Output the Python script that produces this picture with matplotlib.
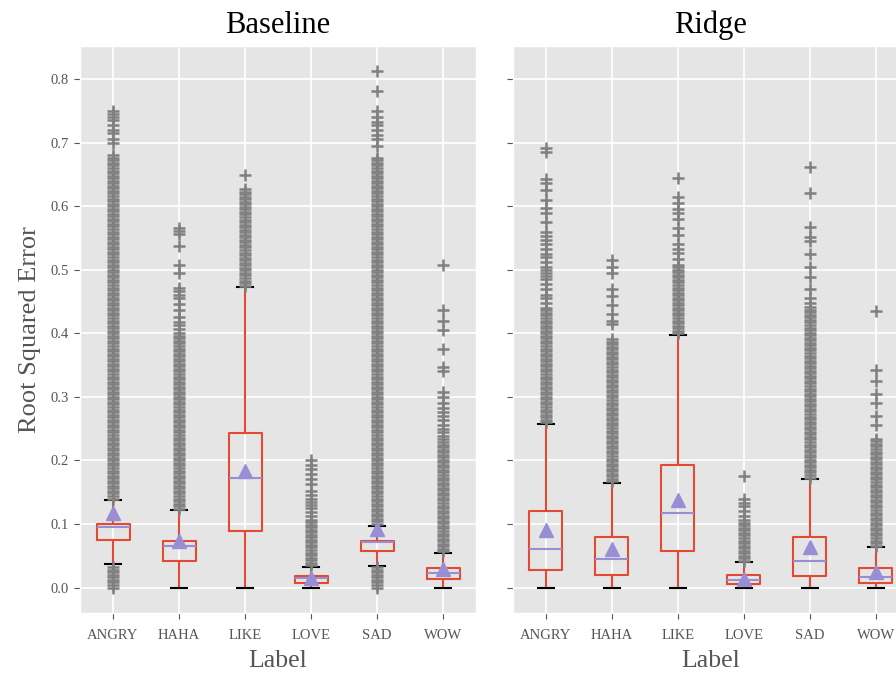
import matplotlib
matplotlib.use('Agg')
import matplotlib.pyplot as plt
import numpy as np

labels = ['ANGRY', 'HAHA', 'LIKE', 'LOVE', 'SAD', 'WOW']

# Baseline box statistics
base_q1 = [0.075, 0.042, 0.089, 0.007, 0.057, 0.014]
base_med = [0.096, 0.065, 0.173, 0.0145, 0.072, 0.0225]
base_q3 = [0.100, 0.074, 0.243, 0.018, 0.074, 0.030]
base_lo = [0.037, 0.0, 0.0, 0.0, 0.0335, 0.0]
base_hi = [0.138, 0.122, 0.473, 0.033, 0.097, 0.055]
base_mean = [0.118, 0.074, 0.183, 0.015, 0.092, 0.029]

# Ridge box statistics
ridge_q1 = [0.028, 0.020, 0.057, 0.005, 0.018, 0.007]
ridge_med = [0.061, 0.045, 0.117, 0.0115, 0.041, 0.017]
ridge_q3 = [0.120, 0.079, 0.193, 0.019, 0.080, 0.030]
ridge_lo = [0.0, 0.0, 0.0, 0.0, 0.0, 0.0]
ridge_hi = [0.258, 0.165, 0.398, 0.040, 0.171, 0.064]
ridge_mean = [0.091, 0.060, 0.138, 0.014, 0.064, 0.025]

# Outliers, in thousandths (dense runs)
base_fliers = [
    # ANGRY
    [0, 4, 8, 12, 16, 20, 24, 28, 32,
     140, 144, 148, 152, 156, 160, 164, 168, 172, 176, 180, 184, 188, 192, 196,
     200, 204, 208, 212, 216, 220, 224, 228, 232, 236, 240, 244, 248, 252, 256,
     260, 264, 268, 272, 276, 280, 284, 288, 292, 296, 300, 304, 308, 312, 316,
     320, 324, 328, 332, 336, 340, 344, 348, 352, 356, 360, 364, 368, 372, 376,
     380, 384, 388, 392, 396, 400, 404, 408, 412, 416, 420, 424, 428, 432, 436,
     440, 444, 448, 452, 456, 460, 464, 468, 472, 476, 480, 484, 488, 492, 496,
     500, 504, 508, 512, 516, 520, 524, 528, 532, 536, 540, 544, 548, 552, 556,
     560, 564, 568, 572, 576, 580, 584, 588, 592, 596, 600, 604, 608, 612, 616,
     620, 624, 628, 632, 636, 640, 644, 648, 652, 656, 660, 664, 668, 672, 676,
     680, 700, 705, 715, 720, 728, 735, 740, 745, 750],
    # HAHA
    [124, 128, 132, 136, 140, 144, 148, 152, 156, 160, 164, 168, 172, 176, 180,
     184, 188, 192, 196, 200, 204, 208, 212, 216, 220, 224, 228, 232, 236, 240,
     244, 248, 252, 256, 260, 264, 268, 272, 276, 280, 284, 288, 292, 296, 300,
     304, 308, 312, 316, 320, 324, 328, 332, 336, 340, 344, 348, 352, 356, 360,
     364, 368, 372, 376, 380, 384, 388, 392, 396, 400,
     406, 413, 418, 426, 436, 446, 456, 461, 467, 472, 495, 508, 537, 556, 561,
     566],
    # LIKE
    [475, 479, 483, 487, 491, 495, 499, 503, 507, 511, 515, 519, 523, 527, 531,
     535, 539, 543, 547, 551, 555, 559, 563, 567, 571, 575, 579, 583, 587, 591,
     595, 599, 603, 607, 611, 615, 619, 623, 627, 649],
    # LOVE
    [35, 39, 43, 47, 51, 55, 59, 63, 67, 71, 75, 79, 83, 87, 91, 95, 99, 103,
     107, 112, 119, 125, 130, 135, 140, 146, 152, 163, 170, 178, 186, 192, 200],
    # SAD
    [0, 4, 8, 12, 16, 20, 24, 28, 32,
     100, 104, 108, 112, 116, 120, 124, 128, 132, 136, 140, 144, 148, 152, 156,
     160, 164, 168, 172, 176, 180, 184, 188, 192, 196, 200, 204, 208, 212, 216,
     220, 224, 228, 232, 236, 240, 244, 248, 252, 256, 260, 264, 268, 272, 276,
     280, 284, 288, 292, 296, 300, 304, 308, 312, 316, 320, 324, 328, 332, 336,
     340, 344, 348, 352, 356, 360, 364, 368, 372, 376, 380, 384, 388, 392, 396,
     400, 404, 408, 412, 416, 420, 424, 428, 432, 436, 440, 444, 448, 452, 456,
     460, 464, 468, 472, 476, 480, 484, 488, 492, 496, 500, 504, 508, 512, 516,
     520, 524, 528, 532, 536, 540, 544, 548, 552, 556, 560, 564, 568, 572, 576,
     580, 584, 588, 592, 596, 600, 604, 608, 612, 616, 620, 624, 628, 632, 636,
     640, 644, 648, 652, 656, 660, 664, 668, 672, 676,
     695, 705, 712, 720, 727, 733, 740, 750, 781, 812],
    # WOW
    [57, 61, 65, 69, 73, 77, 81, 85, 89, 93, 97, 101, 105, 109, 113, 117, 121,
     125, 129, 133, 137, 141, 145, 149, 153, 157, 161, 165, 169, 173, 177, 181,
     185, 189, 193, 197, 201, 205, 209, 213, 217, 221, 225, 229, 233,
     238, 245, 250, 256, 263, 270, 276, 283, 290, 300, 307, 340, 347, 375, 405,
     420, 437, 508],
]

ridge_fliers = [
    # ANGRY
    [260, 264, 268, 272, 276, 280, 284, 288, 292, 296, 300, 304, 308, 312, 316,
     320, 324, 328, 332, 336, 340, 344, 348, 352, 356, 360, 364, 368, 372, 376,
     380, 384, 388, 392, 396, 400, 404, 408, 412, 416, 420, 424, 428, 432, 436,
     440, 447, 455, 460, 470, 477, 485, 490, 495, 500, 505, 512, 520, 525, 532,
     540, 546, 553, 560, 575, 590, 597, 610, 625, 637, 643, 685, 692],
    # HAHA
    [167, 171, 175, 179, 183, 187, 191, 195, 199, 203, 207, 211, 215, 219, 223,
     227, 231, 235, 239, 243, 247, 251, 255, 259, 263, 267, 271, 275, 279, 283,
     287, 291, 295, 299, 303, 307, 311, 315, 319, 323, 327, 331, 335, 339, 343,
     347, 351, 355, 359, 363, 367, 371, 375, 379, 383, 387, 391,
     415, 420, 430, 445, 458, 470, 495, 505, 515],
    # LIKE
    [400, 404, 408, 412, 416, 420, 424, 428, 432, 436, 440, 444, 448, 452, 456,
     460, 464, 468, 472, 476, 480, 484, 488, 492, 496, 500, 504, 508,
     517, 527, 533, 540, 555, 565, 580, 590, 596, 605, 615, 645],
    # LOVE
    [42, 46, 50, 54, 58, 62, 66, 70, 74, 78, 82, 86, 90, 94, 98, 102, 106,
     113, 121, 128, 133, 140, 175],
    # SAD
    [173, 177, 181, 185, 189, 193, 197, 201, 205, 209, 213, 217, 221, 225, 229,
     233, 237, 241, 245, 249, 253, 257, 261, 265, 269, 273, 277, 281, 285, 289,
     293, 297, 301, 305, 309, 313, 317, 321, 325, 329, 333, 337, 341, 345, 349,
     353, 357, 361, 365, 369, 373, 377, 381, 385, 389, 393, 397, 401, 405, 409,
     413, 417, 421, 425, 429, 433, 437, 441,
     447, 455, 470, 488, 505, 525, 545, 552, 567, 620, 662],
    # WOW
    [66, 70, 74, 78, 82, 86, 90, 94, 98, 102, 106, 110, 114, 118, 122, 126, 130,
     134, 138, 142, 146, 150, 154, 158, 162, 166, 170, 174, 178, 182, 186, 190,
     194, 198, 202, 206, 210, 214, 218, 222, 226, 230, 234,
     255, 270, 290, 305, 325, 342, 435],
]


def build_stats(q1, med, q3, lo, hi, mean, fliers):
    stats = []
    for i in range(len(labels)):
        stats.append({
            'q1': q1[i], 'med': med[i], 'q3': q3[i],
            'whislo': lo[i], 'whishi': hi[i], 'mean': mean[i],
            'fliers': np.array(fliers[i]) / 1000.0,
            'label': labels[i],
        })
    return stats


plt.style.use('ggplot')
plt.rcParams['font.family'] = ['Liberation Serif', 'DejaVu Serif']

fig = plt.figure(figsize=(8.96, 6.75), dpi=100)
ax1 = fig.add_axes([0.0893, 0.0919, 0.442, 0.84])
ax2 = fig.add_axes([0.5725, 0.0919, 0.442, 0.84], sharey=ax1)

red = '#E24A33'
purple = '#988ED5'

panels = [
    (ax1, 'Baseline', build_stats(base_q1, base_med, base_q3, base_lo, base_hi,
                                  base_mean, base_fliers)),
    (ax2, 'Ridge', build_stats(ridge_q1, ridge_med, ridge_q3, ridge_lo, ridge_hi,
                               ridge_mean, ridge_fliers)),
]

for ax, title, stats in panels:
    ax.bxp(stats, positions=range(1, 7), widths=0.5, showmeans=True,
           boxprops=dict(color=red, linewidth=1.5),
           whiskerprops=dict(color=red, linewidth=1.5),
           capprops=dict(color='black', linewidth=1.5),
           medianprops=dict(color=purple, linewidth=1.5),
           meanprops=dict(marker='^', markerfacecolor=purple,
                          markeredgecolor=purple, markersize=10),
           flierprops=dict(marker='+', markeredgecolor='#808080',
                           markersize=9, markeredgewidth=1.8, linestyle='none'))
    ax.set_title(title, fontsize=22, color='black', pad=9)
    ax.set_xlabel('Label', fontsize=18.5, color='#555555', labelpad=6)
    ax.set_xlim(0.5, 6.5)
    ax.tick_params(axis='both', labelsize=10.5, colors='#555555', length=4.5)
    ax.tick_params(axis='x', pad=7)
    ax.grid(True, color='white', linewidth=1.2)

ax1.set_ylim(-0.04, 0.852)
ax1.set_yticks([0.0, 0.1, 0.2, 0.3, 0.4, 0.5, 0.6, 0.7, 0.8])
ax1.set_ylabel('Root Squared Error', fontsize=19, color='#555555', labelpad=7)
plt.setp(ax2.get_yticklabels(), visible=False)

fig.savefig('out.png', dpi=100)
